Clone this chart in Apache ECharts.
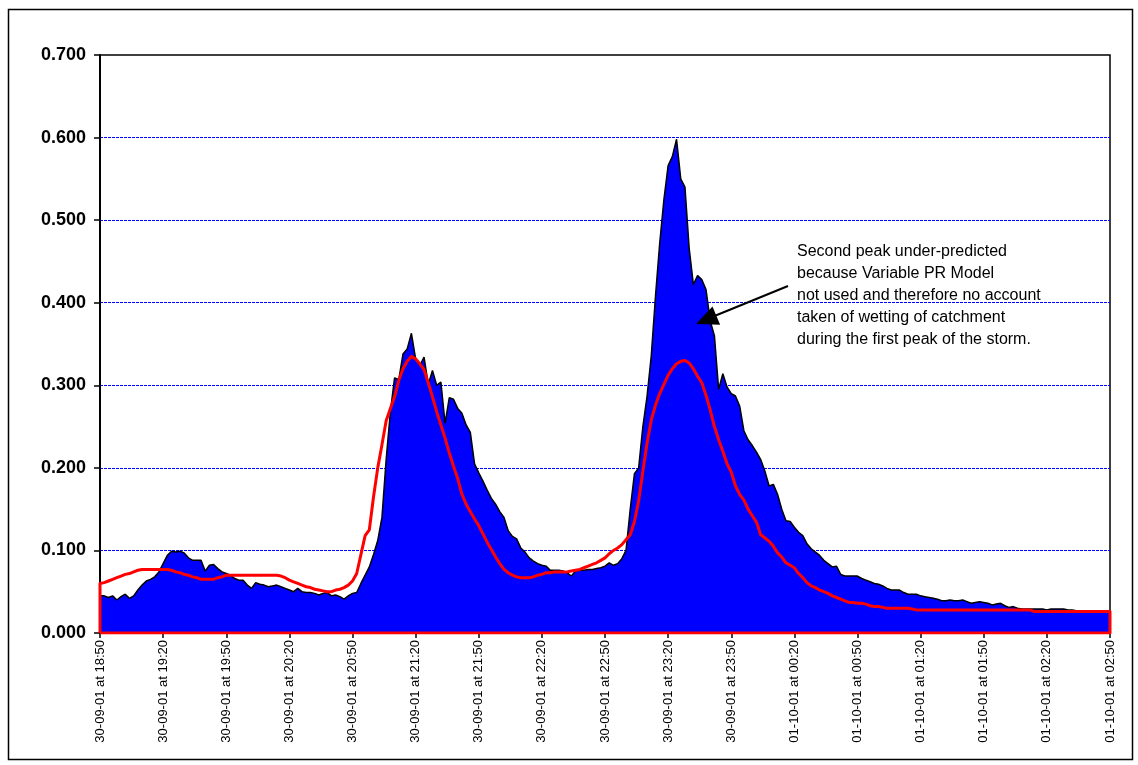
<!DOCTYPE html>
<html>
<head>
<meta charset="utf-8">
<script src="https://cdn.jsdelivr.net/npm/echarts@6/dist/echarts.min.js"></script>
<style>
html,body{margin:0;padding:0;background:#fff;}
#chart{width:1138px;height:765px;}
</style>
</head>
<body>
<div id="chart"></div>
<script>
// Tick labels every 30 minutes from 30-09-01 18:50 to 01-10-01 02:50
const timeLabels = [
  '30-09-01 at 18:50','30-09-01 at 19:20','30-09-01 at 19:50','30-09-01 at 20:20',
  '30-09-01 at 20:50','30-09-01 at 21:20','30-09-01 at 21:50','30-09-01 at 22:20',
  '30-09-01 at 22:50','30-09-01 at 23:20','30-09-01 at 23:50','01-10-01 at 00:20',
  '01-10-01 at 00:50','01-10-01 at 01:20','01-10-01 at 01:50','01-10-01 at 02:20',
  '01-10-01 at 02:50'
];
const stepMinutes = 2;      // sample spacing of both series
const totalMinutes = 480;   // 18:50 -> 02:50

// Observed flow (blue area), one value every 2 minutes, rows of 30 minutes
const observed = [
  0.045,0.045,0.043,0.045,0.040,0.044,0.047,0.042,0.045,0.052,0.058,0.063,0.065,0.068,0.074,
  0.084,0.094,0.099,0.098,0.099,0.097,0.091,0.088,0.088,0.088,0.075,0.082,0.083,0.078,0.074,
  0.072,0.070,0.066,0.064,0.064,0.058,0.054,0.061,0.059,0.058,0.056,0.057,0.058,0.056,0.054,
  0.052,0.050,0.054,0.050,0.049,0.049,0.048,0.046,0.048,0.049,0.045,0.046,0.044,0.041,0.045,
  0.048,0.049,0.060,0.070,0.080,0.095,0.112,0.140,0.210,0.268,0.309,0.307,0.338,0.344,0.363,
  0.332,0.324,0.334,0.301,0.318,0.300,0.304,0.254,0.285,0.283,0.272,0.266,0.252,0.243,0.205,
  0.194,0.184,0.173,0.163,0.156,0.147,0.140,0.124,0.117,0.114,0.103,0.098,0.091,0.087,0.084,
  0.082,0.081,0.076,0.076,0.076,0.075,0.073,0.069,0.075,0.076,0.076,0.077,0.077,0.078,0.079,
  0.081,0.085,0.082,0.084,0.090,0.100,0.150,0.193,0.200,0.250,0.287,0.336,0.408,0.472,0.525,
  0.566,0.577,0.598,0.550,0.540,0.466,0.422,0.433,0.428,0.416,0.378,0.360,0.295,0.314,0.298,
  0.290,0.287,0.275,0.245,0.234,0.227,0.219,0.210,0.196,0.178,0.180,0.168,0.150,0.136,0.135,
  0.128,0.122,0.118,0.108,0.102,0.098,0.094,0.088,0.084,0.080,0.081,0.071,0.069,0.069,0.069,
  0.069,0.066,0.064,0.062,0.060,0.059,0.057,0.054,0.052,0.052,0.052,0.049,0.047,0.047,0.047,
  0.045,0.044,0.043,0.042,0.041,0.039,0.039,0.040,0.039,0.039,0.040,0.038,0.036,0.037,0.038,
  0.037,0.036,0.034,0.035,0.036,0.033,0.031,0.032,0.030,0.029,0.029,0.029,0.029,0.029,0.029,
  0.028,0.029,0.029,0.029,0.029,0.028,0.028,0.027,0.027,0.027,0.027,0.027,0.027,0.027,0.027,
  0.027
];

// Modelled flow (red line), one value every 2 minutes
const modelled = [
  0.060,0.061,0.063,0.065,0.067,0.069,0.071,0.072,0.074,0.076,0.077,0.077,0.077,0.077,0.077,
  0.077,0.077,0.076,0.074,0.073,0.071,0.070,0.068,0.067,0.065,0.065,0.065,0.065,0.067,0.068,
  0.070,0.070,0.070,0.070,0.070,0.070,0.070,0.070,0.070,0.070,0.070,0.070,0.070,0.069,0.067,
  0.064,0.062,0.060,0.058,0.056,0.055,0.053,0.052,0.051,0.050,0.050,0.052,0.053,0.055,0.058,
  0.063,0.072,0.095,0.118,0.125,0.165,0.200,0.228,0.257,0.272,0.286,0.306,0.320,0.329,0.335,
  0.332,0.326,0.319,0.303,0.286,0.268,0.252,0.236,0.218,0.202,0.187,0.168,0.156,0.147,0.138,
  0.130,0.120,0.110,0.101,0.092,0.084,0.077,0.073,0.070,0.068,0.067,0.067,0.067,0.068,0.070,
  0.071,0.073,0.073,0.074,0.074,0.074,0.074,0.075,0.076,0.077,0.079,0.081,0.083,0.085,0.088,
  0.091,0.096,0.100,0.103,0.107,0.113,0.119,0.135,0.160,0.196,0.230,0.258,0.276,0.290,0.301,
  0.312,0.320,0.326,0.329,0.330,0.327,0.320,0.311,0.303,0.288,0.270,0.250,0.234,0.220,0.205,
  0.195,0.178,0.168,0.161,0.150,0.142,0.134,0.119,0.115,0.111,0.105,0.097,0.092,0.085,0.082,
  0.079,0.072,0.067,0.061,0.057,0.055,0.052,0.050,0.048,0.045,0.043,0.041,0.039,0.037,0.037,
  0.036,0.036,0.035,0.033,0.032,0.032,0.031,0.030,0.030,0.030,0.030,0.030,0.030,0.029,0.028,
  0.028,0.028,0.028,0.028,0.028,0.028,0.028,0.028,0.028,0.028,0.028,0.028,0.028,0.028,0.028,
  0.028,0.028,0.028,0.028,0.028,0.028,0.028,0.028,0.028,0.028,0.028,0.028,0.026,0.026,0.026,
  0.026,0.026,0.026,0.026,0.026,0.026,0.026,0.026,0.026,0.026,0.026,0.026,0.026,0.026,0.026,
  0.026
];

const annotationLines = [
  'Second peak under-predicted',
  'because Variable PR Model',
  'not used and therefore no account',
  'taken of wetting of catchment',
  'during the first peak of the storm.'
];

const obsData = observed.map((v, i) => [i * stepMinutes, v]);
const modPts = modelled.map((v, i) => [i * stepMinutes, v]);
// modelled drawn as a closed outline (down to the axis at both ends, along the base)
const modData = [[0, 0]].concat(modPts, [[totalMinutes, 0], [0, 0]]);

const chart = echarts.init(document.getElementById('chart'), null, {renderer: 'canvas'});
const FONT = 'Arial, "Liberation Sans", Helvetica, sans-serif';

chart.setOption({
  animation: false,
  backgroundColor: '#fff',
  grid: {
    left: 100, right: 28, top: 55, bottom: 132,
    show: true, borderColor: '#000', borderWidth: 1.5, backgroundColor: 'transparent'
  },
  xAxis: {
    type: 'value', min: 0, max: totalMinutes, interval: 30,
    axisLine: {show: true, onZero: false, lineStyle: {color: '#000', width: 2}},
    axisTick: {show: true, length: 5, lineStyle: {color: '#000', width: 1.5}},
    splitLine: {show: false},
    axisLabel: {
      rotate: 90, margin: 7, fontSize: 13, color: '#000', fontFamily: FONT,
      formatter: v => timeLabels[Math.round(v / 30)] || ''
    }
  },
  yAxis: {
    type: 'value', min: 0, max: 0.7, interval: 0.1,
    axisLine: {show: true, lineStyle: {color: '#000', width: 2}},
    axisTick: {show: true, length: 6, lineStyle: {color: '#000', width: 1.5}},
    splitLine: {show: true, showMinLine: false, showMaxLine: false,
      lineStyle: {color: '#0000ff', width: 1, type: [3, 1]}},
    axisLabel: {
      margin: 14, fontSize: 18, fontWeight: 'bold', color: '#000', fontFamily: FONT,
      formatter: v => v.toFixed(3)
    }
  },
  series: [
    {
      name: 'Observed', type: 'line', data: obsData, showSymbol: false, symbol: 'none',
      lineStyle: {color: '#000', width: 1.5},
      areaStyle: {color: '#0000ff', opacity: 1},
      z: 2
    },
    {
      name: 'Modelled', type: 'line', data: modData, showSymbol: false, symbol: 'none',
      lineStyle: {color: '#ff0000', width: 3, join: 'round'},
      z: 3
    }
  ],
  graphic: [
    {type: 'rect', left: 6, top: 7, shape: {width: 1124, height: 750},
     style: {fill: 'none', stroke: '#000', lineWidth: 1.5}, silent: true, z: 100},
    {type: 'text', left: 797, top: 241,
     style: {text: annotationLines.join('\n'), font: '16px ' + FONT, fill: '#000', lineHeight: 22},
     z: 100},
    {type: 'line', shape: {x1: 788, y1: 286, x2: 712, y2: 317},
     style: {stroke: '#000', lineWidth: 2}, z: 100},
    {type: 'polygon', shape: {points: [[696, 324], [712.5, 306.4], [720.1, 324.8]]},
     style: {fill: '#000'}, z: 100}
  ]
});
</script>
</body>
</html>
